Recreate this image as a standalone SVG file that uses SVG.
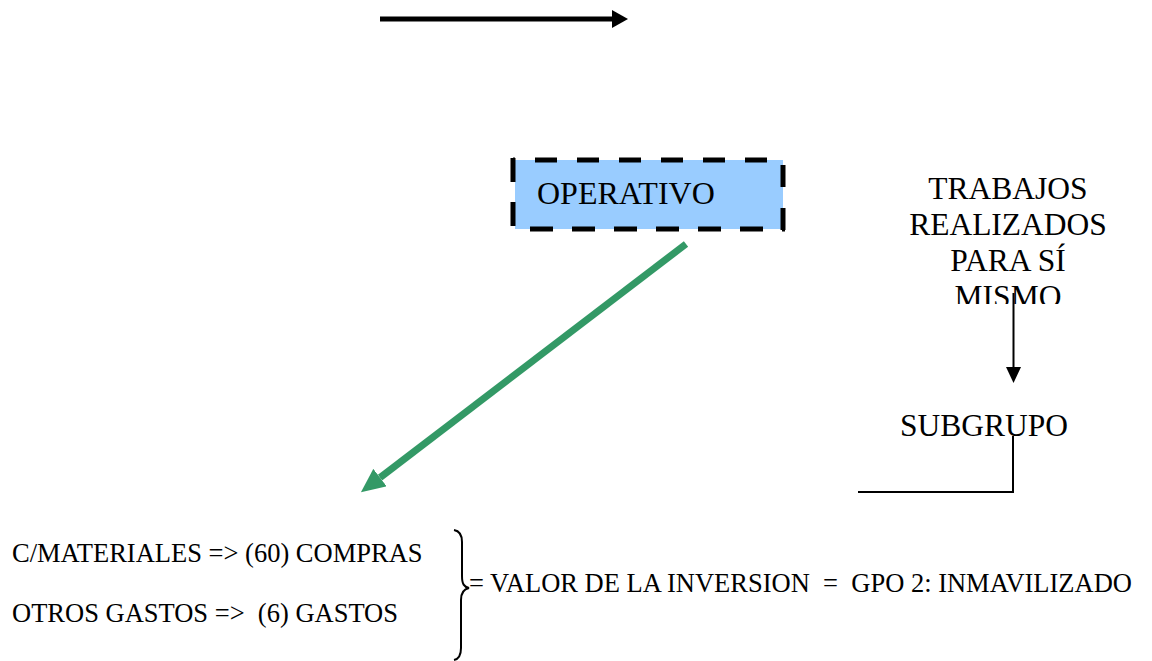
<svg xmlns="http://www.w3.org/2000/svg" width="1152" height="661" viewBox="0 0 1152 661">
<style>
text{font-family:"Liberation Serif","Times New Roman",serif;fill:#000;white-space:pre}
.big{font-size:31.5px}
.op{font-size:32px}
.sm{font-size:26.5px}
.dash{stroke:#000;stroke-width:5;fill:none}
.thin{stroke:#000;stroke-width:2;fill:none}
</style>
<defs>
<marker id="blackHead" markerUnits="userSpaceOnUse" markerWidth="16" markerHeight="18" refX="0" refY="9" orient="auto">
<path d="M0,0 L16,9 L0,18 Z" fill="#000"/>
</marker>
<marker id="greenHead" markerUnits="userSpaceOnUse" markerWidth="24" markerHeight="22" refX="0" refY="11" orient="auto">
<path d="M0,0 L24,11 L0,22 Z" fill="#339966"/>
</marker>
<marker id="thinHead" markerUnits="userSpaceOnUse" markerWidth="16" markerHeight="16" refX="0" refY="7.5" orient="auto">
<path d="M0,0 L16,7.5 L0,15 Z" fill="#000"/>
</marker>
<clipPath id="clipTrab"><rect x="880" y="160" width="260" height="144"/></clipPath>
</defs>

<g id="connectors">
<line x1="380" y1="19" x2="612" y2="19" stroke="#000" stroke-width="5" marker-end="url(#blackHead)"/>
<line x1="686" y1="244" x2="380" y2="477.6" stroke="#339966" stroke-width="7" marker-end="url(#greenHead)"/>
<line x1="1013.5" y1="293" x2="1013.5" y2="367" class="thin" marker-end="url(#thinHead)"/>
<polyline points="1013,436 1013,492 858,492" class="thin"/>
</g>

<g id="operativo">
<rect x="515" y="160" width="268" height="69" fill="#99CCFF"/>
<path d="M513,160 H785" class="dash" stroke-dasharray="22 20" stroke-dashoffset="20"/>
<path d="M513,157 V232" class="dash" stroke-dasharray="24 20" stroke-dashoffset="-1"/>
<path d="M783,157 V232" class="dash" stroke-dasharray="22 21" stroke-dashoffset="35"/>
<path d="M513,229 H785" class="dash" stroke-dasharray="23 19" stroke-dashoffset="25"/>
<text x="537" y="204" class="op">OPERATIVO</text>
</g>

<g id="trabajos" clip-path="url(#clipTrab)">
<text x="1008" y="199" class="big" text-anchor="middle">TRABAJOS</text>
<text x="1008" y="235" class="big" text-anchor="middle">REALIZADOS</text>
<text x="1008" y="271" class="big" text-anchor="middle">PARA SÍ</text>
<text x="1008" y="307" class="big" text-anchor="middle">MISMO</text>
</g>

<g id="subgrupo">
<text x="900" y="436" class="big">SUBGRUPO</text>
</g>

<g id="formula">
<text x="12" y="562" class="sm">C/MATERIALES =&gt; (60) COMPRAS</text>
<text x="12" y="622" class="sm">OTROS GASTOS =&gt;  (6) GASTOS</text>
<path d="M454,530 C460,531 462,535 462,542 L462,576 C462,584 464,587 469,588 C464,589 461,593 461,600 L461,648 C461,655 459,659 454,660" class="thin" stroke-width="1.8"/>
<text x="469" y="592" class="sm">= VALOR DE LA INVERSION  =  GPO 2: INMAVILIZADO</text>
</g>
</svg>
